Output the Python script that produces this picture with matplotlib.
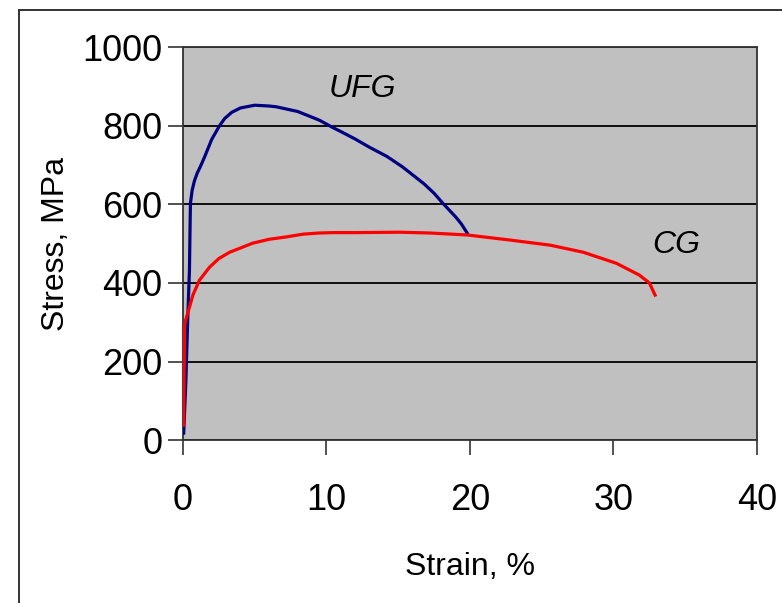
import matplotlib.pyplot as plt
from matplotlib.lines import Line2D

plt.rcParams["font.family"] = ["Liberation Sans", "DejaVu Sans"]

# UFG curve (strain %, stress MPa)
ufg_strain = [0.05, 0.2, 0.35, 0.45, 0.5, 0.52, 0.64, 0.8, 1.0, 1.2, 1.5, 2.0, 2.55, 2.9, 3.4, 4.0,
              5.0, 6.0, 6.5, 8.0, 9.5, 10.4, 11.0, 12.0, 13.0, 14.2, 15.3, 16.8, 17.5, 18.1, 19.0,
              19.4, 19.8]
ufg_stress = [18, 150, 330, 432, 560, 603, 636, 660, 680, 695, 720, 765, 800, 818, 834, 845,
              852, 850, 848, 836, 814, 796, 785, 766, 745, 722, 695, 652, 628, 603, 568,
              550, 527]

# CG curve
cg_strain = [0.05, 0.08, 0.1, 0.18, 0.45, 0.7, 1.15, 1.85, 2.5, 3.25, 4.85, 6.0, 7.2, 8.35, 9.5,
             10.5, 12.0, 15.1, 17.2, 19.8, 22.8, 25.6, 27.9, 30.2, 31.8, 32.5, 32.9]
cg_stress = [38, 180, 290, 305, 338, 370, 407, 440, 462, 478, 501, 511, 517, 524, 527,
             528, 528, 529, 527, 522, 509, 496, 478, 450, 420, 400, 369]

x_ticks = [0, 10, 20, 30, 40]
y_ticks = [0, 200, 400, 600, 800, 1000]

fig = plt.figure(figsize=(7.82, 6.03), dpi=100)
ax = fig.add_axes([0.234, 0.270, 0.734, 0.652])
ax.set_facecolor("#C0C0C0")

ax.plot(ufg_strain, ufg_stress, color="#000080", linewidth=2.3, zorder=3)
ax.plot(cg_strain, cg_stress, color="#FF0000", linewidth=2.3, zorder=3)

ax.text(12.5, 892, "UFG", fontsize=23, fontstyle="italic", ha="center", va="center")
ax.text(34.4, 496, "CG", fontsize=23, fontstyle="italic", ha="center", va="center")

ax.set_xlim(0, 40)
ax.set_ylim(0, 1000)
ax.set_xticks(x_ticks)
ax.set_yticks(y_ticks)
ax.yaxis.grid(True, color="black", linewidth=1.3)
ax.set_axisbelow(True)
for s in ax.spines.values():
    s.set_color("#333333")
    s.set_linewidth(1.3)
ax.tick_params(axis="both", direction="out", length=11, width=1.2, labelsize=26, color="#333333")
ax.tick_params(axis="x", pad=20)
ax.tick_params(axis="y", pad=4)

ax.set_xlabel("Strain, %", fontsize=23, labelpad=24)
ax.set_ylabel("Stress, MPa", fontsize=23, labelpad=8)

# outer chart frame (top and left edges visible)
fig.add_artist(Line2D([19 / 782, 19 / 782], [0, 1 - 10 / 603], transform=fig.transFigure, color="#333333", linewidth=1.4))
fig.add_artist(Line2D([19 / 782, 1], [1 - 10 / 603, 1 - 10 / 603], transform=fig.transFigure, color="#333333", linewidth=1.4))

fig.savefig("out.png", dpi=100)
